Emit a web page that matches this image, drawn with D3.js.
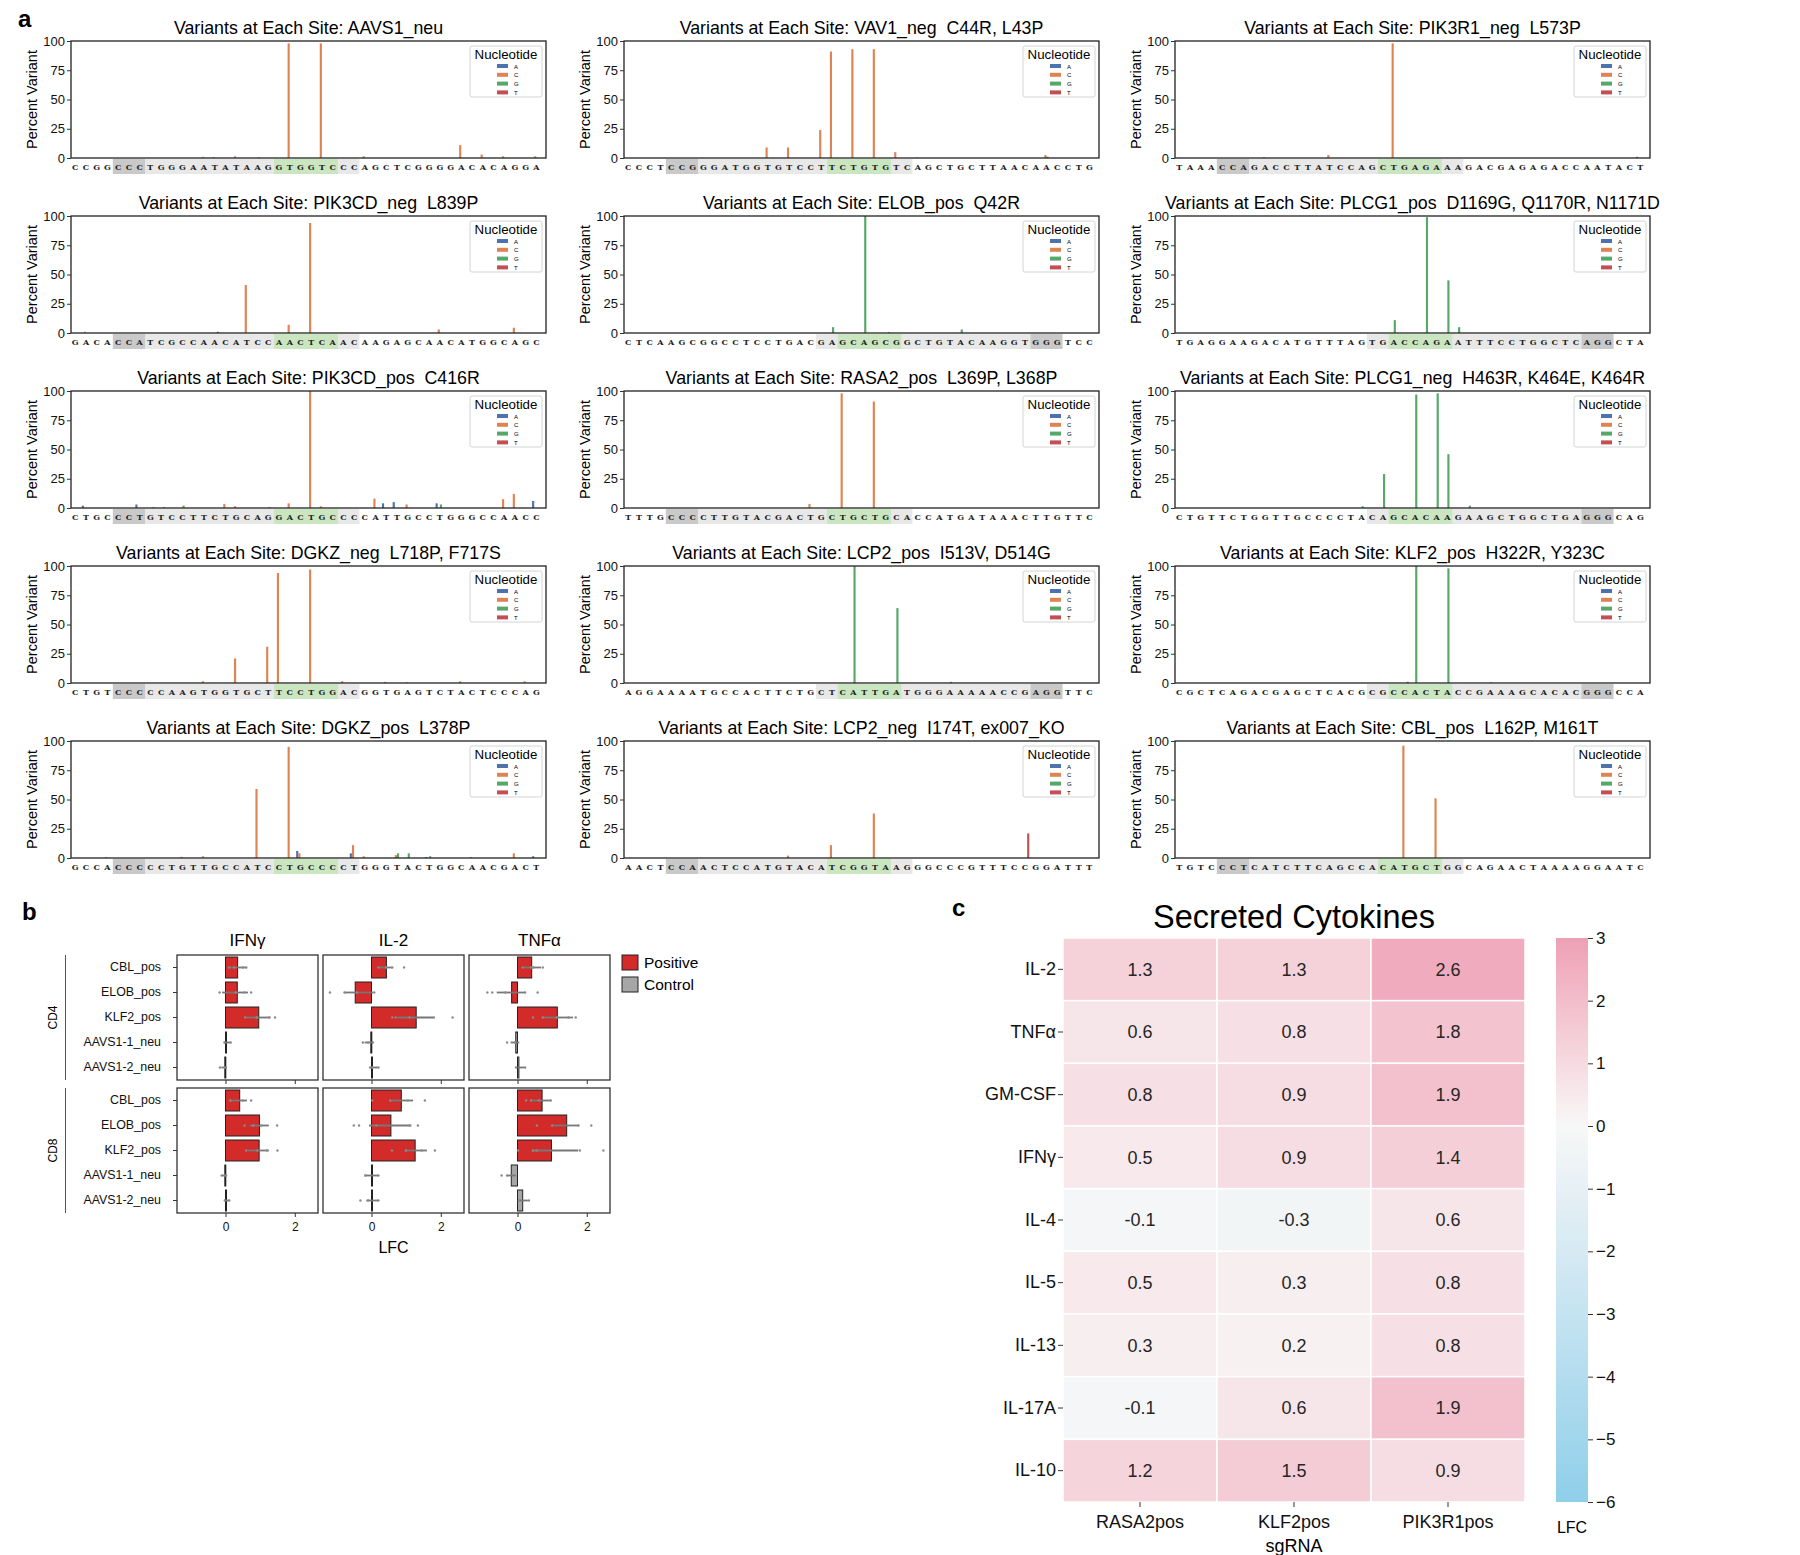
<!DOCTYPE html>
<html>
<head>
<meta charset="utf-8">
<script src="https://cdn.jsdelivr.net/npm/d3@7"></script>
<style>
  body { margin: 0; background: #fff; }
  text { font-family: "Liberation Sans", Arial, sans-serif; }
</style>
</head>
<body>
<svg id="fig"></svg>
<script>
'use strict';

// ---------------- panel a data ----------------
var siteTitles = [
  'Variants at Each Site: AAVS1_neu',
  'Variants at Each Site: VAV1_neg  C44R, L43P',
  'Variants at Each Site: PIK3R1_neg  L573P',
  'Variants at Each Site: PIK3CD_neg  L839P',
  'Variants at Each Site: ELOB_pos  Q42R',
  'Variants at Each Site: PLCG1_pos  D1169G, Q1170R, N1171D',
  'Variants at Each Site: PIK3CD_pos  C416R',
  'Variants at Each Site: RASA2_pos  L369P, L368P',
  'Variants at Each Site: PLCG1_neg  H463R, K464E, K464R',
  'Variants at Each Site: DGKZ_neg  L718P, F717S',
  'Variants at Each Site: LCP2_pos  I513V, D514G',
  'Variants at Each Site: KLF2_pos  H322R, Y323C',
  'Variants at Each Site: DGKZ_pos  L378P',
  'Variants at Each Site: LCP2_neg  I174T, ex007_KO',
  'Variants at Each Site: CBL_pos  L162P, M161T'
];
var siteSeqs = [
  'CCGGCCCTGGGAATATAAGGTGGTCCCAGCTCGGGGACACAGGA',
  'CCCTCCGGGATGGTGTCCTTCTGTGTCAGCTGCTTAACAACCTG',
  'TAAACCAGACCTTATCCAGCTGAGAAAGACGAGAGACCAATACT',
  'GACACCATCGCCAACATCCAACTCAACAAGAGCAACATGGCAGC',
  'CTCAAGCGGCCTCCTGACGAGCAGCGGCTGTACAAGGTGGGTCC',
  'TGAGGAAGACATGTTTAGTGACCAGAATTTCCTGGCTCAGGCTA',
  'CTGCCCTGTCCTTCTGCAGGACTGCCCCATTGCCTGGGCCAACC',
  'TTTGCCCCTTGTACGACTGCTGCTGCACCATGATAAACTTGTTC',
  'CTGTTCTGGTTGCCCCTACAGCACAAGAAGCTGGCTGAGGGCAG',
  'CTGTCCCCCAAGTGGTGCTTCCTGGACGGTGAGTCTACTCCCAG',
  'AGGAAAATGCCACTTCTGCTCATTGATGGGAAAAACCGAGGTTC',
  'CGCTCAGACGAGCTCACGCGCCACTACCGAAAGCACACGGGCCA',
  'GCCACCCCCTGTTGCCATCCTGCCCCTGGGTACTGGCAACGACT',
  'AACTCCAACTCCATGTACATCGGTAAGGGCCCGTTTCCGGATTT',
  'TGTCCCTCATCTTCAGCCACATGCTGGCAGAACTAAAAGGAATC'
];
// guide orientation: '-' = PAM on the left, '+' = PAM on the right
var siteStrand = ['-','-','-','-','+','+','-','-','+','-','+','+','-','-','-'];
// [sequence position, nucleotide, percent variant]
var siteBars = [
  [[12,'C',1],[13,'C',0.8],[15,'C',1.5],[17,'G',0.5],[20,'C',98],[23,'C',98],[27,'C',1.5],[36,'C',11],[38,'C',3],[40,'C',1.5],[43,'C',1.5]],
  [[13,'C',9],[15,'C',9],[18,'C',24],[19,'C',91],[21,'C',93],[23,'C',93],[25,'C',5],[27,'C',0.5],[39,'C',2.5],[39,'G',1.2]],
  [[8,'C',0.8],[14,'C',2.5],[20,'C',98],[43,'A',1]],
  [[1,'C',1],[13,'T',1],[16,'C',41],[20,'C',7],[22,'C',94],[34,'C',3],[41,'C',4.5]],
  [[19,'G',5],[22,'G',100],[24,'T',0.7],[31,'G',3]],
  [[20,'G',11],[23,'G',99],[25,'G',45],[26,'G',5]],
  [[1,'A',2],[6,'A',3],[7,'T',0.6],[8,'T',0.6],[10,'G',2],[14,'C',3.5],[15,'C',1.5],[18,'G',0.8],[20,'C',4],[22,'C',100],[23,'C',1.5],[28,'C',8],[29,'A',4],[30,'A',5],[31,'C',3],[34,'A',4],[34,'G',3],[40,'C',7.5],[41,'C',12],[43,'A',6]],
  [[17,'C',3.5],[20,'C',98],[23,'C',91]],
  [[17,'G',1.5],[19,'G',29],[22,'G',97],[24,'G',98],[25,'G',46],[27,'G',2]],
  [[12,'C',1.5],[15,'C',21],[18,'C',31],[19,'C',94],[22,'C',97],[25,'C',1.5],[29,'C',1],[31,'C',0.7],[36,'C',1.5],[42,'C',1.5]],
  [[21,'G',100],[25,'G',64],[30,'G',1]],
  [[21,'T',1],[22,'G',100],[25,'G',98],[29,'G',0.7]],
  [[3,'C',0.8],[10,'C',1],[12,'C',1.5],[17,'C',59],[20,'C',95],[21,'A',6],[21,'C',4],[26,'A',4],[26,'C',11],[27,'C',1.5],[30,'C',2.5],[30,'G',4],[31,'G',4],[33,'A',0.8],[33,'G',1.5],[37,'C',0.8],[41,'C',4],[43,'A',1.5]],
  [[15,'C',2],[19,'C',11],[23,'C',38],[37,'T',21]],
  [[21,'C',96],[24,'C',51]]
];
var nucleotides = ['A', 'C', 'G', 'T'];
var pctTicks = [0, 25, 50, 75, 100];

// ---------------- panel b data ----------------
var guides = ['CBL_pos', 'ELOB_pos', 'KLF2_pos', 'AAVS1-1_neu', 'AAVS1-2_neu'];
var guideGroup = ['Positive', 'Positive', 'Positive', 'Control', 'Control'];
var cellTypes = ['CD4', 'CD8'];
var facetCytokines = ['IFNγ', 'IL-2', 'TNFα'];
var lfcTicks = [0, 2];
// mean LFC per cytokine (rows) and guide (cols)
var cd4Mean = [[0.35, 0.34, 0.96, 0.02, -0.02], [0.43, -0.47, 1.29, -0.02, 0.02], [0.41, -0.17, 1.15, -0.05, 0.04]];
var cd8Mean = [[0.41, 0.98, 0.97, -0.02, 0.01], [0.86, 0.56, 1.26, 0.0, 0.0], [0.71, 1.42, 0.98, -0.18, 0.15]];
var cd4Lo = [[0.1, -0.1, 0.6, -0.03, -0.12], [0.2, -0.78, 0.75, -0.2, 0.0], [0.17, -0.6, 0.73, -0.2, 0.0]];
var cd4Hi = [[0.6, 0.65, 1.3, 0.13, 0.04], [0.6, 0.05, 1.78, 0.05, 0.18], [0.68, 0.22, 1.6, 0.05, 0.2]];
var cd8Lo = [[0.14, 0.7, 0.65, -0.1, -0.03], [0.55, -0.07, 0.95, -0.2, -0.15], [0.4, 1.0, 0.4, -0.3, 0.02]];
var cd8Hi = [[0.62, 1.25, 1.25, 0.05, 0.1], [1.2, 1.15, 1.6, 0.2, 0.2], [0.96, 1.78, 1.75, -0.05, 0.3]];
var cd4Pts = [
  [[0.1, 0.25, 0.5, 0.6], [-0.17, 0.3, 0.55, 0.74], [0.57, 0.9, 1.26, 1.43], [-0.03, 0.15], [-0.16, -0.02]],
  [[0.2, 0.42, 0.6, 0.94], [-1.2, -0.78, -0.42, 0.08], [0.6, 0.7, 1.1, 1.8, 2.34], [-0.25, -0.1, 0.04], [-0.04, 0.02, 0.2]],
  [[0.15, 0.4, 0.73, 0.45], [-0.87, -0.73, -0.35, 0.22, 0.58], [0.45, 0.73, 1.13, 1.47, 1.68], [-0.3, -0.07], [-0.04, 0.22]]
];
var cd8Pts = [
  [[0.14, 0.5, 0.74], [0.55, 0.8, 1.03, 1.49], [0.6, 0.92, 1.2, 1.5], [-0.11, 0.0], [-0.02, 0.11]],
  [[0.02, 0.54, 1.05, 1.54], [-0.51, -0.36, 0.14, 1.1, 1.34], [0.59, 1.0, 1.45, 1.83], [-0.18, 0.2], [-0.32, -0.1, 0.2]],
  [[0.25, 0.39, 0.62, 0.96], [0.56, 1.0, 1.76, 2.13], [0.02, 0.45, 0.55, 1.8, 2.48], [-0.46, -0.3], [0.04, 0.33]]
];

// ---------------- panel c data ----------------
var heatRows = ['IL-2', 'TNFα', 'GM-CSF', 'IFNγ', 'IL-4', 'IL-5', 'IL-13', 'IL-17A', 'IL-10'];
var heatCols = ['RASA2pos', 'KLF2pos', 'PIK3R1pos'];
var rasa2Lfc = [1.3, 0.6, 0.8, 0.5, -0.1, 0.5, 0.3, -0.1, 1.2];
var klf2Lfc = [1.3, 0.8, 0.9, 0.9, -0.3, 0.3, 0.2, 0.6, 1.5];
var pik3r1Lfc = [2.6, 1.8, 1.9, 1.4, 0.6, 0.8, 0.8, 1.9, 0.9];
var cbarTicks = [3, 2, 1, 0, -1, -2, -3, -4, -5, -6];

// ---------------- figure ----------------
var W = 1800, H = 1555;
var FONT = '"Liberation Sans", Arial, sans-serif';
var svg = d3.select('#fig').attr('width', W).attr('height', H);

var ntColor = d3.scaleOrdinal().domain(nucleotides).range(['#4c72b0', '#dd8452', '#55a868', '#c44e52']);
var ntOffset = d3.scaleOrdinal().domain(nucleotides).range([-0.3, -0.1, 0.1, 0.3]);

// restyle the tick text/lines of a d3 axis group
function styleAxis(sel, size) {
  sel.select('.domain').remove();
  sel.selectAll('line').attr('stroke', '#333');
  sel.selectAll('text').style('font-size', size + 'px').style('font-family', FONT).style('fill', '#111');
  return sel;
}

svg.append('text').text('a').attr('x', 18).attr('y', 27)
  .style('font-size', '24px').style('font-weight', 'bold');

// ---- panel a: 5 x 3 grid of variant bar plots
var A_COLS = [71, 624, 1175], A_TOP = 41, A_STEP = 175, A_W = 475, A_H = 117;

siteTitles.forEach(function(title, k) {
  var seq = siteSeqs[k];
  var n = seq.length;
  var g = svg.append('g')
    .attr('transform', 'translate(' + A_COLS[k % 3] + ',' + (A_TOP + A_STEP * Math.floor(k / 3)) + ')');

  var x = d3.scaleLinear().domain([-0.4, n - 0.1]).range([0, A_W]);
  var y = d3.scaleLinear().domain([0, 100]).range([A_H, 0]);
  var step = x(1) - x(0);

  // guide shading under the sequence
  var shades = siteStrand[k] === '-'
    ? [[4, 6, '#c9c9c9'], [7, 18, '#e8e8e8'], [19, 24, '#c9e6c1'], [25, 26, '#e8e8e8']]
    : [[18, 19, '#e8e8e8'], [20, 25, '#c9e6c1'], [26, 37, '#e8e8e8'], [38, 40, '#c9c9c9']];
  g.selectAll('rect.shade').data(shades).enter().append('rect')
    .attr('x', function(d) { return x(d[0] - 0.5); })
    .attr('width', function(d) { return x(d[1] + 0.5) - x(d[0] - 0.5); })
    .attr('y', A_H + 1).attr('height', 15)
    .attr('fill', function(d) { return d[2]; });

  g.selectAll('text.nt').data(seq.split('')).enter().append('text')
    .attr('x', function(d, i) { return x(i); })
    .attr('y', A_H + 11.5)
    .attr('text-anchor', 'middle')
    .style('font-family', '"DejaVu Serif", serif')
    .style('font-weight', 'bold')
    .style('font-size', '8px')
    .style('fill', '#222')
    .text(function(d) { return d; });

  // bars
  var bw = step * 0.2;
  g.selectAll('rect.bar').data(siteBars[k]).enter().append('rect')
    .attr('x', function(d) { return x(d[0] + ntOffset(d[1])) - bw / 2; })
    .attr('width', bw)
    .attr('y', function(d) { return y(d[2]); })
    .attr('height', function(d) { return A_H - y(d[2]); })
    .attr('fill', function(d) { return ntColor(d[1]); });

  // axes frame
  g.append('rect').attr('width', A_W).attr('height', A_H)
    .attr('fill', 'none').attr('stroke', '#222').attr('stroke-width', 1.3);

  styleAxis(g.append('g').call(d3.axisLeft(y).tickValues(pctTicks).tickSize(4).tickPadding(2)), 13);

  g.append('text').text('Percent Variant')
    .attr('transform', 'translate(-39,' + (A_H / 2) + ') rotate(-90)')
    .attr('text-anchor', 'middle').attr('dy', '0.35em')
    .style('font-size', '14.5px');

  g.append('text').text(title)
    .attr('x', A_W / 2).attr('y', -7)
    .attr('text-anchor', 'middle')
    .style('white-space', 'pre')
    .style('font-size', '17.8px');

  // legend
  var lg = g.append('g').attr('transform', 'translate(' + (A_W - 76) + ',5)');
  lg.append('rect').attr('width', 72).attr('height', 51).attr('rx', 2)
    .attr('fill', '#fff').attr('stroke', '#d4d4d4');
  lg.append('text').text('Nucleotide').attr('x', 36).attr('y', 13)
    .attr('text-anchor', 'middle').style('font-size', '13.3px');
  nucleotides.forEach(function(nt, i) {
    lg.append('rect').attr('x', 27).attr('y', 18 + i * 8.8).attr('width', 11).attr('height', 4)
      .attr('fill', ntColor(nt));
    lg.append('text').text(nt).attr('x', 44).attr('y', 22.5 + i * 8.8)
      .style('font-size', '6px');
  });
});

// ---- panel b: faceted LFC bars
svg.append('text').text('b').attr('x', 22).attr('y', 920)
  .style('font-size', '24px').style('font-weight', 'bold');

var B_COLS = [177, 323, 469], B_ROWS = [955, 1088], B_W = 141, B_H = 125;
var bx = d3.scaleLinear().domain([-1.4, 2.67]).range([0, B_W]);
var by = d3.scaleBand().domain(guides).range([0, B_H]).paddingInner(0.16).paddingOuter(0.08);
var groupColor = d3.scaleOrdinal().domain(['Positive', 'Control']).range(['#d32a2a', '#a6a6a6']);

cellTypes.forEach(function(ct, r) {
  var means = r === 0 ? cd4Mean : cd8Mean;
  var los = r === 0 ? cd4Lo : cd8Lo;
  var his = r === 0 ? cd4Hi : cd8Hi;
  var pts = r === 0 ? cd4Pts : cd8Pts;

  facetCytokines.forEach(function(cy, c) {
    var g = svg.append('g').attr('transform', 'translate(' + B_COLS[c] + ',' + B_ROWS[r] + ')');

    g.selectAll('rect.bar').data(guides).enter().append('rect')
      .attr('x', function(d, i) { return bx(Math.min(0, means[c][i])); })
      .attr('width', function(d, i) { return Math.max(1, Math.abs(bx(means[c][i]) - bx(0))); })
      .attr('y', function(d) { return by(d); })
      .attr('height', by.bandwidth())
      .attr('fill', function(d, i) { return groupColor(guideGroup[i]); })
      .attr('stroke', '#222').attr('stroke-width', 1);

    g.selectAll('line.err').data(guides).enter().append('line')
      .attr('x1', function(d, i) { return bx(los[c][i]); })
      .attr('x2', function(d, i) { return bx(his[c][i]); })
      .attr('y1', function(d) { return by(d) + by.bandwidth() / 2; })
      .attr('y2', function(d) { return by(d) + by.bandwidth() / 2; })
      .attr('stroke', '#777').attr('stroke-width', 1.8);

    guides.forEach(function(gd, i) {
      g.selectAll(null).data(pts[c][i]).enter().append('circle')
        .attr('cx', function(v) { return bx(v); })
        .attr('cy', by(gd) + by.bandwidth() / 2)
        .attr('r', 1.2).attr('fill', '#8a8a8a');
    });

    g.append('rect').attr('width', B_W).attr('height', B_H)
      .attr('fill', 'none').attr('stroke', '#333').attr('stroke-width', 1.3);

    var xa = styleAxis(g.append('g').attr('transform', 'translate(0,' + B_H + ')')
      .call(d3.axisBottom(bx).tickValues(lfcTicks).tickSize(4).tickPadding(5).tickFormat(d3.format('d'))), 12);
    if (r === 0) xa.selectAll('text').remove();

    if (r === 0) {
      g.append('text').text(cy).attr('x', B_W / 2).attr('y', -9)
        .attr('text-anchor', 'middle').style('font-size', '17px');
    }
    if (c === 0) {
      styleAxis(g.append('g').call(d3.axisLeft(by).tickSize(4).tickPadding(12)), 12.4);
    }
  });

  svg.append('line').attr('x1', 65.5).attr('x2', 65.5)
    .attr('y1', B_ROWS[r]).attr('y2', B_ROWS[r] + B_H)
    .attr('stroke', '#555').attr('stroke-width', 1);
  svg.append('text').text(ct)
    .attr('transform', 'translate(57,' + (B_ROWS[r] + B_H / 2) + ') rotate(-90)')
    .attr('text-anchor', 'middle').style('font-size', '12px');
});

svg.append('text').text('LFC').attr('x', B_COLS[1] + B_W / 2).attr('y', 1253)
  .attr('text-anchor', 'middle').style('font-size', '16px');

['Positive', 'Control'].forEach(function(grp, i) {
  svg.append('rect').attr('x', 622).attr('y', 955 + i * 22).attr('width', 16).attr('height', 15)
    .attr('fill', groupColor(grp)).attr('stroke', '#222').attr('stroke-width', 1);
  svg.append('text').text(grp).attr('x', 644).attr('y', 968 + i * 22)
    .style('font-size', '15.5px');
});

// ---- panel c: heatmap
svg.append('text').text('c').attr('x', 952).attr('y', 916)
  .style('font-size', '24px').style('font-weight', 'bold');

var C_X = 1063, C_Y = 938, C_W = 462, C_H = 564;
var hx = d3.scaleBand().domain(heatCols).range([C_X, C_X + C_W]);
var hy = d3.scaleBand().domain(heatRows).range([C_Y, C_Y + C_H]);
var heatColor = d3.scaleLinear().domain([-6, 0, 3])
  .range(['#8ecfea', '#f7f7f7', '#eea0b5']).interpolate(d3.interpolateLab);

var heatCells = [];
[rasa2Lfc, klf2Lfc, pik3r1Lfc].forEach(function(vals, ci) {
  vals.forEach(function(v, ri) { heatCells.push({col: heatCols[ci], row: heatRows[ri], v: v}); });
});

svg.selectAll('rect.cell').data(heatCells).enter().append('rect')
  .attr('x', function(d) { return hx(d.col); })
  .attr('y', function(d) { return hy(d.row); })
  .attr('width', hx.bandwidth()).attr('height', hy.bandwidth())
  .attr('fill', function(d) { return heatColor(d.v); })
  .attr('stroke', '#fff').attr('stroke-width', 1.5);

svg.selectAll('text.cell').data(heatCells).enter().append('text')
  .attr('x', function(d) { return hx(d.col) + hx.bandwidth() / 2; })
  .attr('y', function(d) { return hy(d.row) + hy.bandwidth() / 2; })
  .attr('dy', '0.35em').attr('text-anchor', 'middle')
  .style('font-size', '18px').style('fill', '#262626')
  .text(function(d) { return d.v.toFixed(1); });

svg.append('text').text('Secreted Cytokines').attr('x', C_X + C_W / 2).attr('y', 928)
  .attr('text-anchor', 'middle').style('font-size', '32.5px');

styleAxis(svg.append('g').attr('transform', 'translate(' + C_X + ',0)')
  .call(d3.axisLeft(hy).tickSize(5).tickPadding(2)), 18);

styleAxis(svg.append('g').attr('transform', 'translate(0,' + (C_Y + C_H) + ')')
  .call(d3.axisBottom(hx).tickSize(5).tickPadding(8)), 18);

svg.append('text').text('sgRNA').attr('x', C_X + C_W / 2).attr('y', 1552)
  .attr('text-anchor', 'middle').style('font-size', '18px');

// colorbar
var CB_X = 1556, CB_W = 32;
var cby = d3.scaleLinear().domain([-6, 3]).range([C_Y + C_H, C_Y]);
var grad = svg.append('defs').append('linearGradient').attr('id', 'cbgrad')
  .attr('x1', 0).attr('y1', 1).attr('x2', 0).attr('y2', 0);
d3.range(-6, 3.01, 0.5).forEach(function(v) {
  grad.append('stop').attr('offset', (v + 6) / 9).attr('stop-color', heatColor(v));
});
svg.append('rect').attr('x', CB_X).attr('y', C_Y).attr('width', CB_W).attr('height', C_H)
  .attr('fill', 'url(#cbgrad)');
styleAxis(svg.append('g').attr('transform', 'translate(' + (CB_X + CB_W) + ',0)')
  .call(d3.axisRight(cby).tickValues(cbarTicks).tickSize(5).tickPadding(3).tickFormat(d3.format('d'))), 17);
svg.append('text').text('LFC').attr('x', CB_X + CB_W / 2).attr('y', 1533)
  .attr('text-anchor', 'middle').style('font-size', '16px');
</script>
</body>
</html>
